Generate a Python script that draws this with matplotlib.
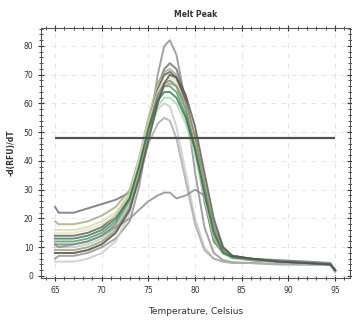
import numpy as np
import matplotlib.pyplot as plt

temps = [65, 65.4, 67, 68.5, 70, 71.5, 73, 74, 75, 76, 76.7, 77.3, 78, 79, 80, 81, 82, 83, 84, 86, 89, 92, 94.5, 95]

curves = [
    # (values, colour)
    ([6, 7, 7, 8, 10, 13, 19, 31, 49, 70, 80, 82, 77, 60, 36, 17, 8, 5.5, 4.8, 4.5, 4.2, 4, 3.8, 1.5], '#8c8c8c'),
    ([24, 22, 22, 23.5, 25, 26.5, 29, 38, 52, 66, 72, 74, 72, 62, 45, 26, 12, 8, 7, 6, 5.5, 5, 4.5, 2], '#6a6a6a'),
    ([19, 18, 18, 19, 21, 24, 30, 41, 55, 67, 71, 72, 70, 61, 46, 28, 13, 8, 6.5, 6, 5, 4.5, 4, 2], '#a6a678'),
    ([16, 16, 16, 17, 19, 22, 29, 40, 54, 66, 70, 70, 68, 60, 47, 30, 15, 8, 6.5, 5.5, 5, 4.5, 4, 2], '#d6dcae'),
    ([14, 14, 14, 15, 17, 21, 28, 39, 53, 65, 70, 71, 69, 61, 48, 31, 16, 9, 7, 6, 5, 4.5, 4, 2], '#5a5a5a'),
    ([15, 15, 15, 16, 18, 21, 28, 40, 53, 64, 68, 69, 67, 59, 46, 29, 14, 8, 6.5, 5.5, 5, 4.5, 4, 2], '#e3e6b8'),
    ([12, 12, 12, 13, 15, 19, 27, 38, 51, 62, 66, 66, 64, 56, 44, 28, 14, 8, 6.5, 5.5, 5, 4.5, 4, 2], '#4a9a66'),
    ([11, 11, 11, 12, 14, 18, 26, 37, 51, 63, 67, 68, 66, 58, 45, 29, 15, 8, 6.5, 5.5, 5, 4.5, 4, 2], '#7d7d7d'),
    ([10, 10, 10, 11, 13, 17, 25, 36, 49, 59, 62, 62, 60, 53, 42, 27, 14, 8, 6, 5.5, 5, 4.5, 4, 2], '#a8d8b0'),
    ([5, 5, 5, 6, 8, 12, 22, 36, 50, 58, 60, 59, 52, 36, 20, 10, 6, 5, 4.5, 4.5, 4, 4, 3.8, 1.5], '#c8c8c8'),
    ([8, 8, 8, 9, 11, 15, 23, 34, 46, 53, 55, 54, 48, 33, 18, 9, 6, 5, 4.5, 4.5, 4, 4, 3.8, 1.5], '#a8a8a8'),
    ([11, 10, 11, 12, 14, 17, 20, 23, 26, 28, 29, 29, 27, 28, 30, 28, 18, 10, 7, 6, 5, 4.5, 4, 2], '#8a8a8a'),
    ([9, 9, 9, 10, 12, 16, 24, 35, 49, 61, 66, 67, 66, 60, 49, 33, 17, 9, 6.5, 5.5, 5, 4.5, 4, 2], '#9a9a6c'),
    ([13, 13, 13, 14, 16, 20, 27, 38, 51, 61, 64, 64, 62, 55, 44, 29, 15, 8, 6.5, 6, 5, 4.5, 4, 2], '#2f7a4a'),
    ([8, 8, 8, 9, 11, 15, 23, 34, 47, 60, 67, 70, 69, 63, 52, 36, 20, 10, 7, 6, 5, 4.5, 4, 2], '#555555'),
]

threshold = 48

fig = plt.figure(figsize=(3.52, 3.24), dpi=100)
ax = fig.add_axes([0.1165, 0.142, 0.878, 0.772])

for vals, col in curves:
    ax.plot(temps, vals, color=col, lw=1.4, alpha=0.8, solid_joinstyle='round')

ax.hlines(threshold, temps[0], temps[-1], color='#505050', lw=1.6)

ax.set_xlim(63.5, 96.6)
ax.set_ylim(-0.7, 86.3)
ax.set_xticks(np.arange(65, 96, 5))
ax.set_xticks(np.arange(64, 97, 1), minor=True)
ax.set_yticks(np.arange(0, 81, 10))
ax.set_yticks(np.arange(0, 87, 2), minor=True)
ax.tick_params(which='both', direction='inout', top=True, right=True,
               labelsize=5.5, colors='#333333')
ax.tick_params(which='major', length=4, width=0.8)
ax.tick_params(which='minor', length=2.5, width=0.6)
ax.grid(True, which='major', color='#e2e2e2', lw=0.6, ls=(0, (6, 6)))
for s in ax.spines.values():
    s.set_color('#555555')
    s.set_linewidth(0.8)

ax.set_title('Melt Peak', fontsize=5.5, fontweight='bold', pad=8, color='#333333')
ax.set_xlabel('Temperature, Celsius', fontsize=6.5, labelpad=9, color='#333333')
ax.set_ylabel('-d(RFU)/dT', fontsize=5.5, fontweight='bold', labelpad=6, color='#333333')

fig.savefig('out.png', dpi=100)
